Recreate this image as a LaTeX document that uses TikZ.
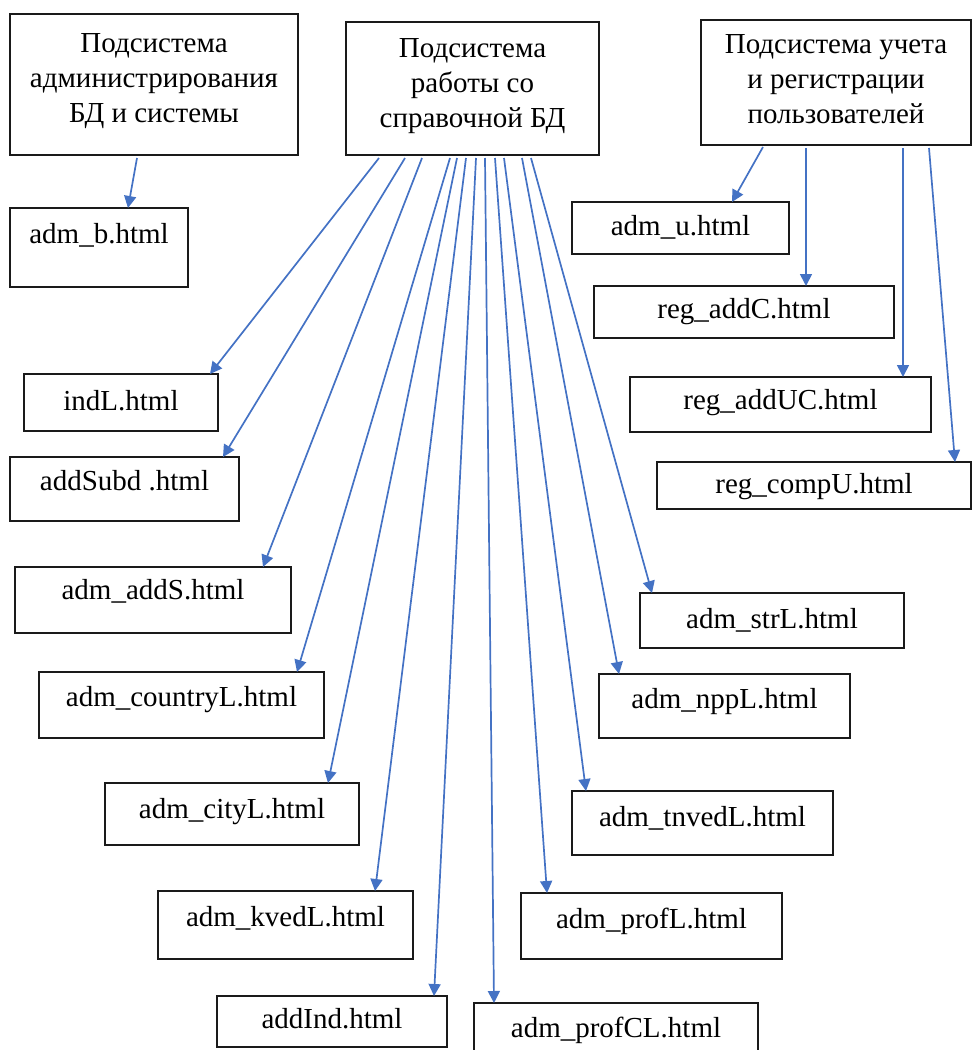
\documentclass[tikz,border=0pt]{standalone}
\usepackage{fontspec}
\setmainfont{Liberation Serif}
\usetikzlibrary{arrows.meta,calc}
\definecolor{arr}{HTML}{4472C4}
\definecolor{edge}{HTML}{1A1A1A}
\begin{document}
\begin{tikzpicture}[x=1pt,y=-1pt,
  box/.style={draw=edge, line width=1.8pt, inner sep=0pt, outer sep=0pt, anchor=north west,
    font=\fontsize{29}{35}\selectfont},
  conn/.style={draw=arr, line width=1.7pt, -{Triangle[length=12pt,width=12pt]}}]
\useasboundingbox (0,0) rectangle (972,1050);
% title boxes
\node[box, minimum width=288pt, text height=38pt, text depth=103pt] (adm) at (10,14)
  {\begin{tabular}[t]{@{}c@{}}Подсистема\\администрирования\\БД и системы\end{tabular}};
\node[box, minimum width=253pt, text height=35pt, text depth=98pt] (sprav) at (346,22)
  {\begin{tabular}[t]{@{}c@{}}Подсистема\\работы со\\справочной БД\end{tabular}};
\node[box, minimum width=270pt, text height=33pt, text depth=92pt] (uch) at (701,20)
  {\begin{tabular}[t]{@{}c@{}}Подсистема учета\\и регистрации\\пользователей\end{tabular}};
% leaf boxes
\node[box, minimum width=178pt, text height=35pt, text depth=44pt] (admb) at (10,208) {adm\_b.html};
\node[box, minimum width=217pt, text height=33pt, text depth=19pt] (admu) at (572,202) {adm\_u.html};
\node[box, minimum width=300pt, text height=32pt, text depth=20pt] (regaddC) at (594,286) {reg\_addC.html};
\node[box, minimum width=301pt, text height=32pt, text depth=23pt] (regaddUC) at (630,377) {reg\_addUC.html};
\node[box, minimum width=314pt, text height=31pt, text depth=16pt] (regcompU) at (657,462) {reg\_compU.html};
\node[box, minimum width=194pt, text height=36pt, text depth=21pt] (indL) at (24,374) {indL.html};
\node[box, minimum width=229pt, text height=33pt, text depth=31pt] (addSubd) at (10,457) {addSubd .html};
\node[box, minimum width=276pt, text height=32pt, text depth=34pt] (addS) at (15,567) {adm\_addS.html};
\node[box, minimum width=285pt, text height=34pt, text depth=32pt] (country) at (39,672) {adm\_countryL.html\hspace{15pt}};
\node[box, minimum width=254pt, text height=35pt, text depth=27pt] (city) at (105,783) {adm\_cityL.html};
\node[box, minimum width=255pt, text height=35pt, text depth=33pt] (kved) at (158,891) {adm\_kvedL.html\hspace{20pt}};
\node[box, minimum width=230pt, text height=32pt, text depth=19pt] (addInd) at (217,996) {addInd.html};
\node[box, minimum width=284pt, text height=34pt, text depth=22pt] (profCL) at (474,1003) {adm\_profCL.html};
\node[box, minimum width=264pt, text height=35pt, text depth=20pt] (strL) at (640,593) {adm\_strL.html};
\node[box, minimum width=251pt, text height=34pt, text depth=30pt] (nppL) at (599,674) {adm\_nppL.html};
\node[box, minimum width=261pt, text height=35pt, text depth=29pt] (tnved) at (572,791) {adm\_tnvedL.html\hspace{15pt}};
\node[box, minimum width=261pt, text height=35pt, text depth=31pt] (profL) at (521,893) {adm\_profL.html};
% connectors
\draw[conn] ($(adm.south west)+(127,3)$) -- ($(admb.north west)+(118,0)$);
\draw[conn] ($(uch.south west)+(62,2)$) -- ($(admu.north west)+(160,0)$);
\draw[conn] ($(uch.south west)+(105,3)$) -- ($(regaddC.north west)+(212,0)$);
\draw[conn] ($(uch.south west)+(202,3)$) -- ($(regaddUC.north west)+(273,0)$);
\draw[conn] ($(uch.south west)+(228,3)$) -- ($(regcompU.north west)+(298,0)$);
\draw[conn] ($(sprav.south west)+(33,3)$) -- ($(indL.north west)+(186,0)$);
\draw[conn] ($(sprav.south west)+(59,3)$) -- ($(addSubd.north west)+(213,0)$);
\draw[conn] ($(sprav.south west)+(76,3)$) -- ($(addS.north west)+(248,0)$);
\draw[conn] ($(sprav.south west)+(104,3)$) -- ($(country.north west)+(258,0)$);
\draw[conn] ($(sprav.south west)+(111,3)$) -- ($(city.north west)+(223,0)$);
\draw[conn] ($(sprav.south west)+(120,3)$) -- ($(kved.north west)+(217,0)$);
\draw[conn] ($(sprav.south west)+(130,3)$) -- ($(addInd.north west)+(217,0)$);
\draw[conn] ($(sprav.south west)+(139,3)$) -- ($(profCL.north west)+(20,0)$);
\draw[conn] ($(sprav.south west)+(149,3)$) -- ($(profL.north west)+(26,0)$);
\draw[conn] ($(sprav.south west)+(158,3)$) -- ($(tnved.north west)+(14,0)$);
\draw[conn] ($(sprav.south west)+(176,3)$) -- ($(nppL.north west)+(20,0)$);
\draw[conn] ($(sprav.south west)+(185,3)$) -- ($(strL.north west)+(12,0)$);
\end{tikzpicture}
\end{document}
